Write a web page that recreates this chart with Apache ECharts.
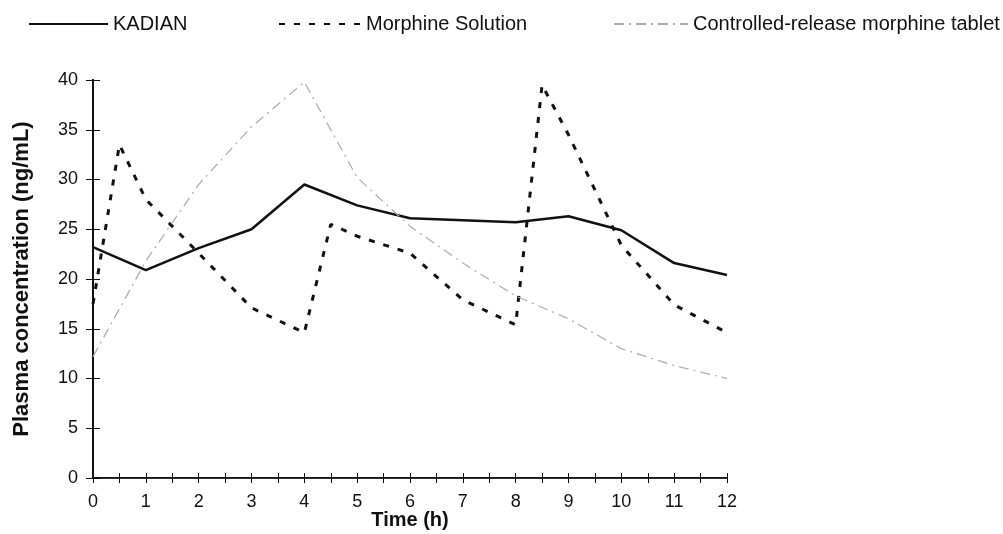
<!DOCTYPE html>
<html>
<head>
<meta charset="utf-8">
<script src="https://cdn.jsdelivr.net/npm/echarts@6/dist/echarts.min.js"></script>
<style>
    html, body { margin: 0; padding: 0; background: #fff; }
    #chart { width: 1003px; height: 534px; }
</style>
</head>
<body>
<div id="chart"></div>
<script>
// time points (h) and plasma concentrations (ng/mL)
var kadianTime = [0, 1, 2, 3, 4, 5, 6, 7, 8, 9, 10, 11, 12];
var kadianConc = [23.2, 20.9, 23.1, 25.0, 29.5, 27.4, 26.1, 25.9, 25.7, 26.3, 24.9, 21.6, 20.4];

var solutionTime = [0, 0.5, 1, 2, 3, 4, 4.5, 5, 6, 7, 8, 8.5, 9, 10, 11, 12];
var solutionConc = [17.5, 33.5, 28.0, 22.6, 17.1, 14.6, 25.5, 24.3, 22.6, 17.9, 15.4, 39.5, 34.5, 23.4, 17.4, 14.6];

var tabletTime = [0, 1, 2, 3, 4, 5, 6, 7, 8, 9, 10, 11, 12];
var tabletConc = [12.2, 21.8, 29.5, 35.3, 39.8, 30.2, 25.3, 21.6, 18.3, 16.0, 13.0, 11.3, 10.0];

var seriesNames = ['KADIAN', 'Morphine Solution', 'Controlled-release morphine tablet'];

function pairs(xs, ys) {
    var out = [];
    for (var i = 0; i < xs.length; i++) out.push([xs[i], ys[i]]);
    return out;
}

var font = 'Liberation Sans, Arial, sans-serif';

// one legend per entry so each can sit where the original has it
function legendAt(name, left, width) {
    return {
        data: [name],
        left: left,
        top: 9,
        itemWidth: width,
        itemHeight: 14,
        itemStyle: { opacity: 0 },
        textStyle: { fontFamily: font, fontSize: 20, color: '#111' }
    };
}

var chart = echarts.init(document.getElementById('chart'));
chart.setOption({
    animation: false,
    backgroundColor: '#fff',
    textStyle: { fontFamily: font, color: '#111' },
    legend: [
        legendAt(seriesNames[0], 23, 79),
        legendAt(seriesNames[1], 273, 82),
        legendAt(seriesNames[2], 608, 74)
    ],
    grid: { left: 93, right: 276, top: 80, bottom: 56, outerBoundsMode: 'none', containLabel: false },
    xAxis: [{
        type: 'value',
        position: 'bottom',
        min: 0,
        max: 12,
        interval: 0.5,
        name: 'Time (h)',
        nameLocation: 'middle',
        nameGap: 32,
        nameMoveOverlap: false,
        nameTextStyle: { fontFamily: font, fontSize: 20, fontWeight: 'bold', color: '#111' },
        axisLine: { lineStyle: { color: '#111', width: 2 } },
        axisTick: { length: 5, lineStyle: { color: '#111', width: 1 } },
        axisLabel: {
            margin: 15,
            fontSize: 18,
            color: '#111',
            formatter: function (v) { return v % 1 === 0 ? String(v) : ''; }
        },
        splitLine: { show: false }
    }, {
        type: 'value',
        position: 'bottom',
        min: 0,
        max: 12,
        interval: 0.5,
        axisLine: { show: false },
        axisTick: { inside: true, length: 5, lineStyle: { color: '#111', width: 1 } },
        axisLabel: { show: false },
        splitLine: { show: false }
    }, {
        type: 'value',
        position: 'top',
        min: 0,
        max: 12,
        axisLine: { lineStyle: { color: '#333', width: 1 } },
        axisTick: { show: false },
        axisLabel: { show: false },
        splitLine: { show: false }
    }],
    yAxis: [{
        type: 'value',
        position: 'left',
        min: 0,
        max: 40,
        interval: 5,
        name: 'Plasma concentration (ng/mL)',
        nameLocation: 'middle',
        nameGap: 60,
        nameMoveOverlap: false,
        nameTextStyle: { fontFamily: font, fontSize: 22, fontWeight: 'bold', color: '#111' },
        axisLine: { show: true, lineStyle: { color: '#111', width: 2 } },
        axisTick: { show: true, length: 7, lineStyle: { color: '#111', width: 1 } },
        axisLabel: { margin: 15, fontSize: 18, color: '#111', padding: [0, 0, 4, 0] },
        splitLine: { show: false }
    }, {
        type: 'value',
        position: 'left',
        min: 0,
        max: 40,
        interval: 5,
        axisLine: { show: false },
        axisTick: { show: true, inside: true, length: 7, lineStyle: { color: '#111', width: 1 } },
        axisLabel: { show: false },
        splitLine: { show: false }
    }, {
        type: 'value',
        position: 'right',
        min: 0,
        max: 40,
        axisLine: { show: true, lineStyle: { color: '#111', width: 2 } },
        axisTick: { show: false },
        axisLabel: { show: false },
        splitLine: { show: false }
    }],
    series: [{
        name: seriesNames[0],
        type: 'line',
        symbol: 'none',
        data: pairs(kadianTime, kadianConc),
        lineStyle: { color: '#111', width: 2.5, type: 'solid' },
        itemStyle: { color: '#111' }
    }, {
        name: seriesNames[1],
        type: 'line',
        symbol: 'none',
        data: pairs(solutionTime, solutionConc),
        lineStyle: { color: '#111', width: 3, type: [6, 9] },
        itemStyle: { color: '#111' }
    }, {
        name: seriesNames[2],
        type: 'line',
        symbol: 'none',
        data: pairs(tabletTime, tabletConc),
        lineStyle: { color: '#ababab', width: 1.2, type: [10, 5, 2, 5] },
        itemStyle: { color: '#ababab' }
    }]
});
</script>
</body>
</html>
